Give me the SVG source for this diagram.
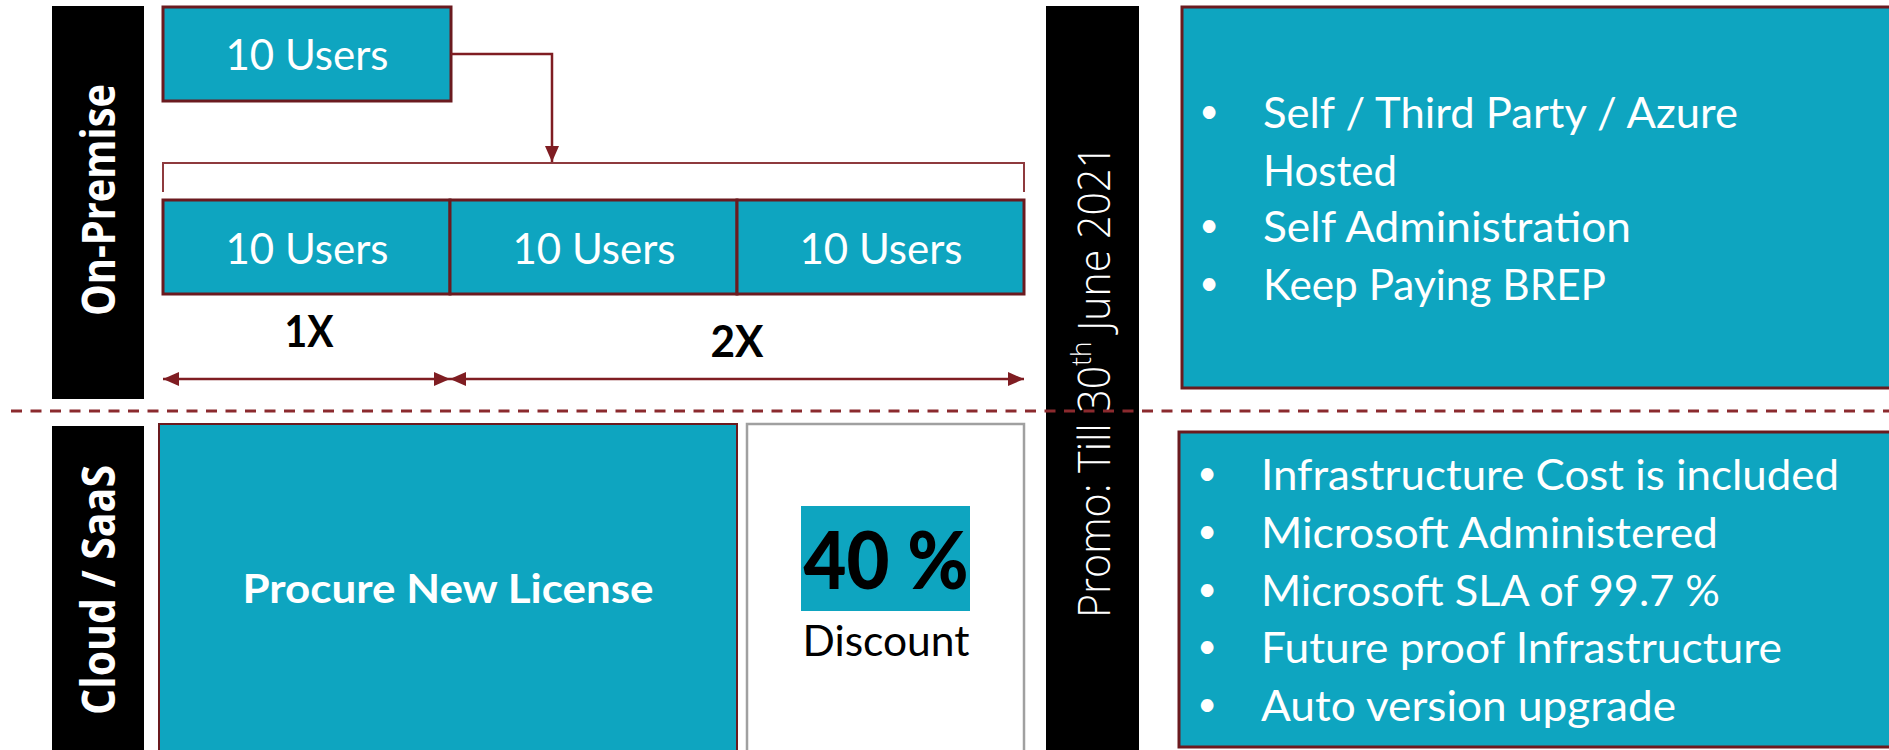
<svg xmlns="http://www.w3.org/2000/svg" width="1889" height="750" viewBox="0 0 1889 750">
<style>
.bar{fill:#000000}
.teal{fill:#0EA5C0;stroke:#6B1A1F;stroke-width:3}
.tealthin{fill:#0EA5C0;stroke:#6B1A1F;stroke-width:2}
.grey{fill:#FFFFFF;stroke:#A0A0A0;stroke-width:2.5}
.wt{fill:#FFFFFF;font-family:Lato,"Open Sans","Liberation Sans",sans-serif}
.bk{fill:#000000;font-family:Lato,"Open Sans","Liberation Sans",sans-serif}
.side{fill:#FFFFFF;font-family:"Open Sans","Noto Sans","Liberation Sans",sans-serif;font-weight:700;font-size:46px}
.promo{fill:#FFFFFF;font-family:"Open Sans","Noto Sans","Liberation Sans",sans-serif;font-weight:300;font-size:44px}
.users{font-size:42px;text-anchor:middle}
.li{font-size:43px}
.bul{font-size:34px;text-anchor:middle}
.conn{fill:none;stroke:#7F1D22;stroke-width:2.5}
.brk{fill:none;stroke:#8E3A3E;stroke-width:2}
.dash{fill:none;stroke:#8B2A2E;stroke-width:3;stroke-dasharray:11 8.5}
</style>
<defs>
<marker id="ah" viewBox="0 0 16 14" refX="16" refY="7" markerWidth="16" markerHeight="14" markerUnits="userSpaceOnUse" orient="auto-start-reverse">
<path d="M0,0 L16,7 L0,14 Z" fill="#7F1D22"/>
</marker>
</defs>

<g id="label-onpremise">
<rect class="bar" x="52" y="6" width="92" height="393"/>
<text class="side" transform="translate(115,200) rotate(-90)" text-anchor="middle" textLength="232" lengthAdjust="spacingAndGlyphs">On-Premise</text>
</g>

<g id="label-cloud">
<rect class="bar" x="52" y="426" width="92" height="340"/>
<text class="side" transform="translate(115,590) rotate(-90)" text-anchor="middle" textLength="250" lengthAdjust="spacingAndGlyphs">Cloud / SaaS</text>
</g>

<g id="node-top-users">
<rect class="teal" x="163" y="7" width="288" height="94"/>
<text class="wt users" x="307" y="70" textLength="163" lengthAdjust="spacingAndGlyphs">10 Users</text>
</g>

<g id="node-users-1">
<rect class="teal" x="163" y="200" width="287" height="94"/>
<text class="wt users" x="307" y="264" textLength="163" lengthAdjust="spacingAndGlyphs">10 Users</text>
</g>
<g id="node-users-2">
<rect class="teal" x="450" y="200" width="287" height="94"/>
<text class="wt users" x="594" y="264" textLength="163" lengthAdjust="spacingAndGlyphs">10 Users</text>
</g>
<g id="node-users-3">
<rect class="teal" x="737" y="200" width="287" height="94"/>
<text class="wt users" x="881" y="264" textLength="163" lengthAdjust="spacingAndGlyphs">10 Users</text>
</g>

<g id="label-1x">
<text class="bk" x="309" y="347" font-size="44" font-weight="700" text-anchor="middle" textLength="49" lengthAdjust="spacingAndGlyphs">1X</text>
</g>
<g id="label-2x">
<text class="bk" x="737" y="357" font-size="44" font-weight="700" text-anchor="middle" textLength="53" lengthAdjust="spacingAndGlyphs">2X</text>
</g>

<g id="node-procure">
<rect class="tealthin" x="159" y="424" width="578" height="340"/>
<text class="wt" x="448" y="603" font-size="40" font-weight="700" text-anchor="middle" textLength="411" lengthAdjust="spacingAndGlyphs">Procure New License</text>
</g>

<g id="node-discount">
<rect class="grey" x="747" y="424" width="277" height="340"/>
<rect x="801" y="506" width="169" height="105" fill="#0EA5C0"/>
<text class="bk" x="886" y="589" font-size="80" font-weight="900" text-anchor="middle" textLength="165" lengthAdjust="spacingAndGlyphs">40 %</text>
<text class="bk" x="886" y="656" font-size="42" text-anchor="middle" textLength="167" lengthAdjust="spacingAndGlyphs">Discount</text>
</g>

<g id="label-promo">
<rect class="bar" x="1046" y="6" width="93" height="760"/>
<text class="promo" transform="translate(1110,381.5) rotate(-90)" text-anchor="middle" textLength="473" lengthAdjust="spacingAndGlyphs">Promo: Till 30<tspan font-size="28" baseline-shift="super">th</tspan> June 2021</text>
</g>

<g id="node-onprem-features">
<rect class="teal" x="1182" y="7" width="800" height="381"/>
<text class="wt bul" x="1209" y="123">•</text>
<text class="wt li" x="1263" y="128" textLength="475" lengthAdjust="spacingAndGlyphs">Self / Third Party / Azure</text>
<text class="wt li" x="1263" y="186" textLength="134" lengthAdjust="spacingAndGlyphs">Hosted</text>
<text class="wt bul" x="1209" y="237">•</text>
<text class="wt li" x="1263" y="242" textLength="368" lengthAdjust="spacingAndGlyphs">Self Administration</text>
<text class="wt bul" x="1209" y="295">•</text>
<text class="wt li" x="1263" y="300" textLength="343" lengthAdjust="spacingAndGlyphs">Keep Paying BREP</text>
</g>

<g id="node-cloud-features">
<rect class="teal" x="1179" y="432" width="800" height="315"/>
<text class="wt bul" x="1207" y="485">•</text>
<text class="wt li" x="1261" y="490" textLength="578" lengthAdjust="spacingAndGlyphs">Infrastructure Cost is included</text>
<text class="wt bul" x="1207" y="543">•</text>
<text class="wt li" x="1261" y="548" textLength="457" lengthAdjust="spacingAndGlyphs">Microsoft Administered</text>
<text class="wt bul" x="1207" y="601">•</text>
<text class="wt li" x="1261" y="606" textLength="459" lengthAdjust="spacingAndGlyphs">Microsoft SLA of 99.7 %</text>
<text class="wt bul" x="1207" y="658">•</text>
<text class="wt li" x="1261" y="663" textLength="521" lengthAdjust="spacingAndGlyphs">Future proof Infrastructure</text>
<text class="wt bul" x="1207" y="716">•</text>
<text class="wt li" x="1261" y="721" textLength="415" lengthAdjust="spacingAndGlyphs">Auto version upgrade</text>
</g>

<g id="connectors">
<path class="conn" d="M451,54 H552 V162" marker-end="url(#ah)"/>
<path class="brk" d="M163,192 V163 H1024 V192"/>
<path class="conn" d="M163,379 H450" marker-start="url(#ah)" marker-end="url(#ah)"/>
<path class="conn" d="M450,379 H1024" marker-start="url(#ah)" marker-end="url(#ah)"/>
<path class="dash" d="M11,411 H1889"/>
</g>
</svg>
